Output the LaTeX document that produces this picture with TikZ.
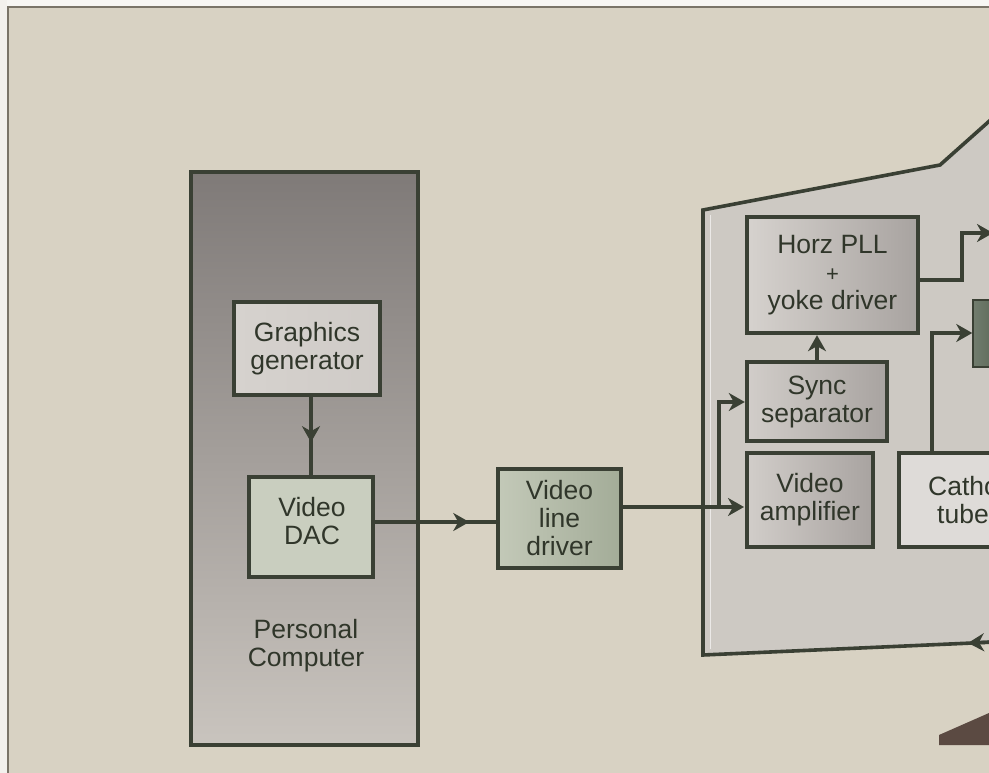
\documentclass[tikz,border=0pt]{standalone}
\usepackage{fontspec}
\setmainfont{Liberation Sans}
\usetikzlibrary{arrows.meta,decorations.markings}
\definecolor{bg}{HTML}{D8D2C3}
\definecolor{monfill}{HTML}{CDC9C3}
\definecolor{ink}{HTML}{3A4034}
\definecolor{txt}{HTML}{30362A}
\definecolor{frameline}{HTML}{7A7468}
\definecolor{pctop}{HTML}{7F7A78}
\definecolor{pcbot}{HTML}{C9C4BE}
\definecolor{boxl}{HTML}{D6D2CE}
\definecolor{boxr}{HTML}{A8A3A0}
\definecolor{greenl}{HTML}{C3C9B8}
\definecolor{greenr}{HTML}{A3AC98}
\definecolor{dkgreen}{HTML}{4E5C4A}
\definecolor{wedge}{HTML}{5B4A42}
\begin{document}
\begin{tikzpicture}[x=1pt,y=-1pt,
  >={Stealth[length=16pt,width=18pt,inset=5pt]},
  conn/.style={draw=ink,line width=3.4pt},
  blk/.style={draw=ink,line width=4.4pt,inner sep=0pt,align=center,text=txt,
    font=\fontsize{26.5}{28}\selectfont},
  lbl/.style={inner sep=0pt,align=center,text=txt,font=\fontsize{26.5}{28}\selectfont},
  midarrow/.style={postaction={decorate},decoration={markings,
    mark=at position #1 with {\arrow{Stealth[length=16pt,width=18pt,inset=5pt]}}}}
]
\useasboundingbox (0,0) rectangle (989,773);
\clip (0,0) rectangle (989,773);
% background and frame
\fill[bg] (0,0) rectangle (989,773);
\fill[white!80!bg] (0,0) rectangle (989,6);
\fill[white!70!bg] (0,0) rectangle (7,773);
\draw[frameline,line width=1.3pt] (8,773) -- (8,7) -- (989,7);

% monitor outline
\fill[monfill] (703,210) -- (940,165) -- (995,116) -- (995,642) -- (703,655) -- cycle;
\draw[ink,line width=3.6pt,line join=miter] (995,116) -- (940,165) -- (703,210) -- (703,655) -- (995,642);
\draw[white!60!monfill,line width=1pt] (710,215) -- (710,649);

% personal computer
\node[blk,top color=pctop,bottom color=pcbot,minimum width=227pt,minimum height=573pt] (pc) at (304.5,458.5) {};
\node[lbl] (pctext) at (306,646) {Personal\\Computer};
\node[blk,left color=boxl,right color=boxl!85!boxr,minimum width=146pt,minimum height=93pt] (gg) at (307,348.5) {Graphics\\generator};
\node[blk,fill=greenl!90!white,minimum width=124pt,minimum height=100pt] (dac) at (311,527) {};
\node[lbl] (dactext) at (312,521) {Video\\DAC};

% video line driver
\node[blk,left color=greenl,right color=greenr,minimum width=123pt,minimum height=99pt] (vld) at (559.5,518.5) {Video\\line\\driver};

% monitor blocks
\node[blk,left color=boxl,right color=boxr,minimum width=171pt,minimum height=116pt] (horz) at (832.5,275) {Horz PLL\\{\fontsize{22}{20}\selectfont +}\\yoke driver};
\node[blk,left color=boxl!90!boxr,right color=boxr,minimum width=140pt,minimum height=79pt] (sync) at (817,401.5) {Sync\\separator};
\node[blk,left color=boxl!90!boxr,right color=boxr,minimum width=126pt,minimum height=94pt] (amp) at (810,500) {Video\\amplifier};
\node[blk,fill=boxl!80!white,minimum width=162pt,minimum height=94pt] (cath) at (980,500) {};
\node[lbl,align=left,anchor=west] (cathtext) at (928,500) {Cathode\\\hspace*{9pt}tube};
\node[draw=ink,line width=1.5pt,left color=dkgreen!80!white,right color=dkgreen,minimum width=40pt,minimum height=67pt,inner sep=0pt] (green) at (993,333.5) {};

% connectors
\coordinate (ln) at (440,522);
\coordinate (jn) at (719,507);
\coordinate (jup) at (719,402);
\coordinate (hz1) at (962,280);
\coordinate (hz2) at (962,233);
\coordinate (hzend) at (993,233);
\coordinate (ct) at (932,333);
\coordinate (amptip) at (744,507);

\draw[conn,midarrow=0.58] (dac.north |- gg.south) -- (dac.north);
\draw[conn,midarrow=0.78] (dac.east |- ln) -- (vld.west |- ln);
\draw[conn] (vld.east |- jn) -- (jn);
\draw[conn,->] (jn) -- (amptip);
\draw[conn,->] (jn) -- (jup) -- (sync.west |- jup);
\draw[conn,->] (sync.north) -- (sync.north |- horz.south);
\draw[conn,->] (horz.east |- hz1) -- (hz1) -- (hz2) -- (hzend);
\draw[conn,->] (cath.north -| ct) -- (ct) -- (green.west |- ct);
\coordinate (btm) at (968,643);
\coordinate (btmstart) at (992,642);
\draw[conn,->] (btmstart) -- (btm);

% dark wedge at bottom right
\fill[wedge] (939,745) -- (939,735) -- (989,713) -- (989,745) -- cycle;
\end{tikzpicture}
\end{document}
